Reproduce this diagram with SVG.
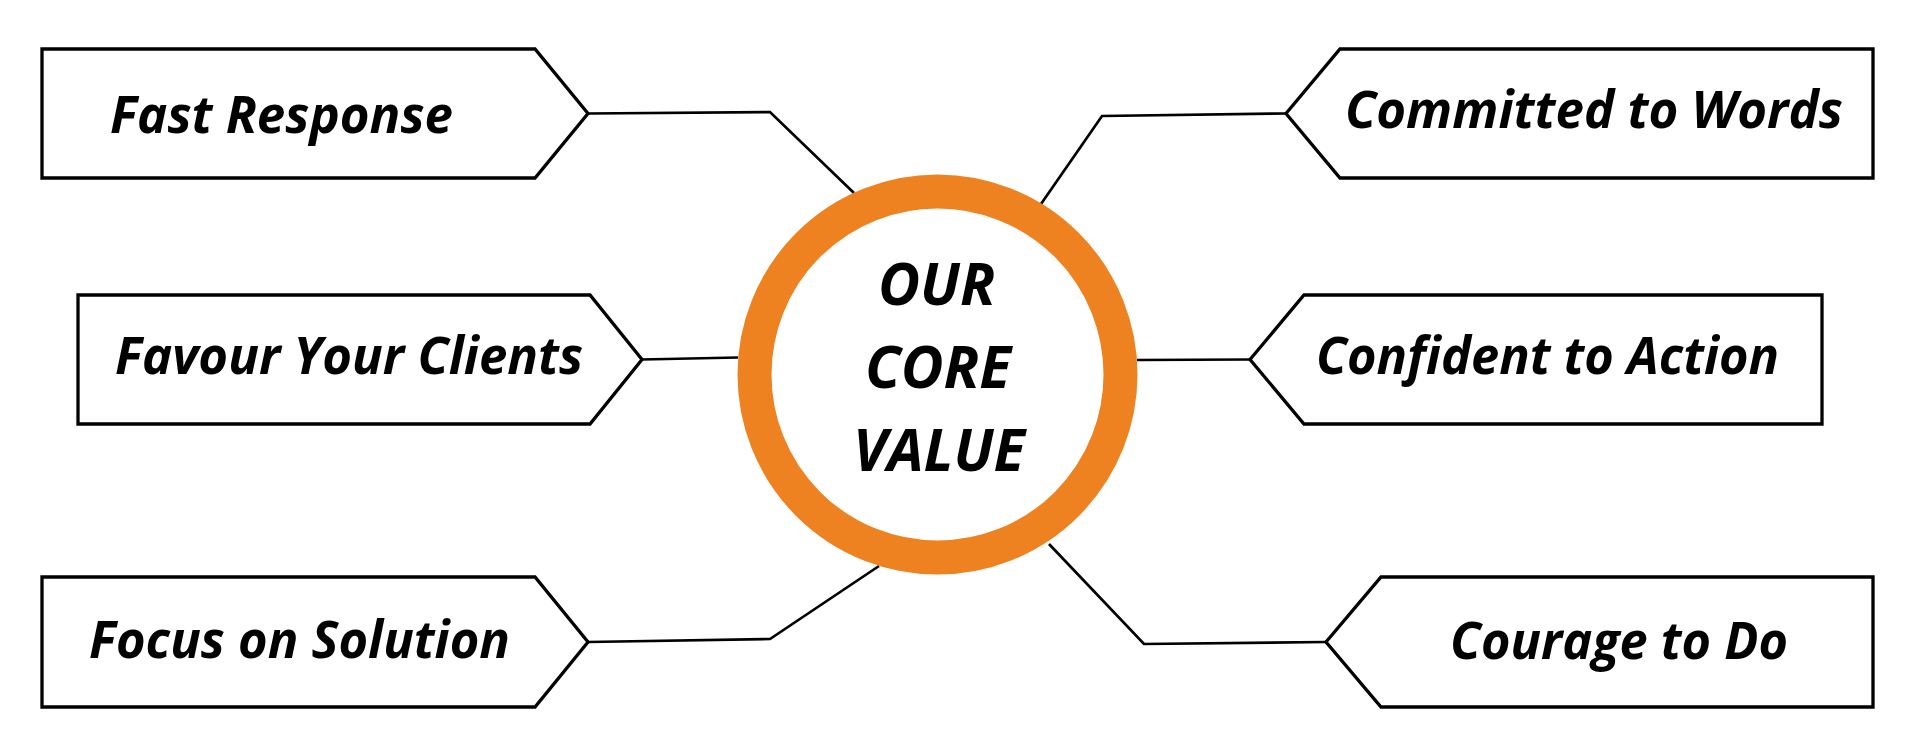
<svg xmlns="http://www.w3.org/2000/svg" width="1920" height="750" viewBox="0 0 1920 750">
<style>
.box{fill:#fff;stroke:#000;stroke-width:3.3;stroke-linejoin:miter}
.con{fill:none;stroke:#000;stroke-width:2.7;stroke-linejoin:miter}
.lbl{font-family:"Open Sans","Liberation Sans",sans-serif;font-weight:700;font-style:italic;font-size:52px;fill:#000}
.core{font-family:"Open Sans","Liberation Sans",sans-serif;font-weight:700;font-style:italic;font-size:59px;fill:#000}
</style>
<rect width="1920" height="750" fill="#fff"/>
<g id="connectors">
<path class="con" d="M588,113.5 L770,112 L854,193"/>
<path class="con" d="M642,359.5 L738,357.5"/>
<path class="con" d="M588,642 L770,639 L879,566"/>
<path class="con" d="M1286,113.5 L1102,116 L1041,204"/>
<path class="con" d="M1137,360 L1250,359.5"/>
<path class="con" d="M1326,642 L1144,644 L1049,544"/>
</g>
<g id="core">
<circle cx="937.5" cy="374.5" r="183" fill="#fff" stroke="#EE8220" stroke-width="34"/>
<text class="core" x="878" y="305" textLength="117" lengthAdjust="spacingAndGlyphs">OUR</text>
<text class="core" x="865" y="388" textLength="146" lengthAdjust="spacingAndGlyphs">CORE</text>
<text class="core" x="853" y="471" textLength="172" lengthAdjust="spacingAndGlyphs">VALUE</text>
</g>
<g id="fast-response">
<path class="box" d="M42,49 L535,49 L588,113.5 L535,178 L42,178 Z"/>
<text class="lbl" x="110" y="133" textLength="343" lengthAdjust="spacingAndGlyphs">Fast Response</text>
</g>
<g id="favour-your-clients">
<path class="box" d="M78,295 L590,295 L642,359.5 L590,424 L78,424 Z"/>
<text class="lbl" x="115" y="374" textLength="468" lengthAdjust="spacingAndGlyphs">Favour Your Clients</text>
</g>
<g id="focus-on-solution">
<path class="box" d="M42,577 L535,577 L588,642 L535,707 L42,707 Z"/>
<text class="lbl" x="89" y="658" textLength="421" lengthAdjust="spacingAndGlyphs">Focus on Solution</text>
</g>
<g id="committed-to-words">
<path class="box" d="M1286,113.5 L1340,49 L1873,49 L1873,178 L1340,178 Z"/>
<text class="lbl" x="1345" y="128" textLength="498" lengthAdjust="spacingAndGlyphs">Committed to Words</text>
</g>
<g id="confident-to-action">
<path class="box" d="M1250,359.5 L1304,295 L1822,295 L1822,424 L1304,424 Z"/>
<text class="lbl" x="1316" y="374" textLength="463" lengthAdjust="spacingAndGlyphs">Confident to Action</text>
</g>
<g id="courage-to-do">
<path class="box" d="M1326,642 L1381,577 L1873,577 L1873,707 L1381,707 Z"/>
<text class="lbl" x="1450" y="659" textLength="338" lengthAdjust="spacingAndGlyphs">Courage to Do</text>
</g>
</svg>
